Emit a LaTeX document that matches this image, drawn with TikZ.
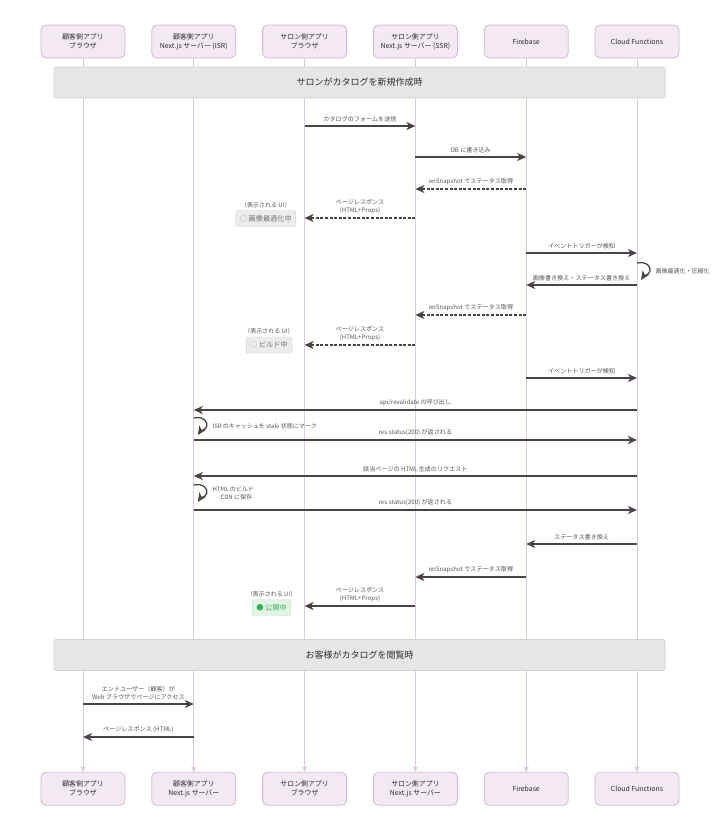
\documentclass[tikz,border=0pt]{standalone}
\usepackage{fontspec}
\setmainfont{Noto Sans CJK JP}
\usepackage{tikz}
\usetikzlibrary{positioning,arrows.meta}

\definecolor{actorfill}{HTML}{F3E9F3}
\definecolor{actorline}{HTML}{D4B4D6}
\definecolor{lifecol}{HTML}{DCC8E3}
\definecolor{msgcol}{HTML}{4B4343}
\definecolor{barfill}{HTML}{E6E6E6}
\definecolor{barline}{HTML}{D3D3D3}
\definecolor{txtcol}{HTML}{2E2E2E}
\definecolor{lblcol}{HTML}{555555}
\definecolor{uifill}{HTML}{ECECEC}
\definecolor{uiline}{HTML}{CFCFCF}
\definecolor{okfill}{HTML}{E2F4E5}
\definecolor{okline}{HTML}{C6E5CB}
\definecolor{okcol}{HTML}{3DAA55}

\newcommand{\sendmsg}[5][msg]{\draw[#1] (#2 |- 0,#4) -- node[lbl]{#5} (#3 |- 0,#4);}
\newcommand{\selfmsg}[3]{%
  \draw[msg] (#1 |- 0,#2) .. controls +(10,-2) and +(1,-4) .. ++(13,8)
    .. controls +(-1,4) and +(2,-3) .. ++(-9,9);
  \node[looplbl] at ([xshift=18pt]#1 |- 0,#2+8) {#3};}

\begin{document}
\begin{tikzpicture}[x=1pt, y=-1pt,
  actor/.style={draw=actorline, fill=actorfill, rounded corners=5pt, line width=0.8pt,
    minimum width=84pt, minimum height=33pt, align=center, inner sep=1pt,
    font=\fontsize{6.9}{9}\selectfont, text=txtcol},
  phase/.style={draw=barline, fill=barfill, rounded corners=1.5pt, line width=0.6pt,
    minimum width=611pt, minimum height=31pt, font=\fontsize{9}{10}\selectfont, text=txtcol},
  life/.style={draw=lifecol, line width=0.9pt, -{Triangle[length=5pt,width=5pt]}},
  msg/.style={draw=msgcol, line width=1.3pt, -{Stealth[length=9pt,width=8pt,inset=2.5pt]}},
  reply/.style={msg, dash pattern=on 3pt off 1.6pt},
  lbl/.style={midway, above=3pt, align=center, inner sep=0.5pt,
    font=\fontsize{6.1}{8}\selectfont, text=lblcol},
  looplbl/.style={anchor=west, align=left, inner sep=0.5pt,
    font=\fontsize{6}{8}\selectfont, text=lblcol},
  uinote/.style={font=\fontsize{6}{7}\selectfont, text=lblcol, inner sep=0.5pt},
  uibox/.style={draw=uiline, fill=uifill, rounded corners=1pt, minimum height=16pt,
    inner xsep=4pt, font=\fontsize{7.2}{8}\selectfont, text=black!55},
  okbox/.style={uibox, draw=okline, fill=okfill, text=okcol}]

\useasboundingbox (0,0) rectangle (720,828);

% participants
\node[actor] (h1) at (83,41.5) {顧客側アプリ\\ブラウザ};
\node[actor, right=26pt of h1] (h2) {顧客側アプリ\\Next.js サーバー (ISR)};
\node[actor, right=26pt of h2] (h3) {サロン側アプリ\\ブラウザ};
\node[actor, right=26pt of h3] (h4) {サロン側アプリ\\Next.js サーバー (SSR)};
\node[actor, right=26pt of h4] (h5) {Firebase};
\node[actor, right=26pt of h5] (h6) {Cloud Functions};

\node[actor, below=713.5pt of h1] (f1) {顧客側アプリ\\ブラウザ};
\node[actor, below=713.5pt of h2] (f2) {顧客側アプリ\\Next.js サーバー};
\node[actor, below=713.5pt of h3] (f3) {サロン側アプリ\\ブラウザ};
\node[actor, below=713.5pt of h4] (f4) {サロン側アプリ\\Next.js サーバー};
\node[actor, below=713.5pt of h5] (f5) {Firebase};
\node[actor, below=713.5pt of h6] (f6) {Cloud Functions};

\foreach \i in {1,...,6}
  \draw[life] (h\i) -- (f\i);

\node[phase] (p1) at (359.5,82.5) {サロンがカタログを新規作成時};
\node[phase] (p2) at (359.5,655) {お客様がカタログを閲覧時};

% salon creates catalog
\sendmsg{h3}{h4}{126}{カタログのフォームを送信}
\sendmsg{h4}{h5}{157}{DB に書き込み}
\sendmsg[reply]{h5}{h4}{189}{onSnapshot でステータス取得}
\sendmsg[reply]{h4}{h3}{218}{ページレスポンス\\(HTML+Props)}
\node[uibox, anchor=east] (ui1) at (296,218.5) {{\color{black!35}○} 画像最適化中};
\node[uinote, above=2pt of ui1] {（表示される UI）};

\sendmsg{h5}{h6}{253}{イベントトリガーが検知}
\selfmsg{h6}{263}{画像最適化・圧縮化}
\sendmsg{h6}{h5}{285}{画像書き換え・ステータス書き換え}
\sendmsg[reply]{h5}{h4}{315}{onSnapshot でステータス取得}
\sendmsg[reply]{h4}{h3}{345}{ページレスポンス\\(HTML+Props)}
\node[uibox, anchor=east] (ui2) at (292,345) {{\color{black!35}○} ビルド中};
\node[uinote, above=2pt of ui2] {（表示される UI）};

\sendmsg{h5}{h6}{378}{イベントトリガーが検知}
\sendmsg{h6}{h2}{410}{api/revalidate の呼び出し}
\selfmsg{h2}{418}{ISR のキャッシュを stale 状態にマーク}
\sendmsg{h2}{h6}{440}{res.status(200) が返される}
\sendmsg{h6}{h2}{476}{該当ページの HTML 生成のリクエスト}
\selfmsg{h2}{485}{HTML のビルド\\\hspace*{8pt}CDN に保存}
\sendmsg{h2}{h6}{510}{res.status(200) が返される}
\sendmsg{h6}{h5}{544}{ステータス書き換え}
\sendmsg{h5}{h4}{577}{onSnapshot でステータス取得}
\sendmsg{h4}{h3}{606}{ページレスポンス\\(HTML+Props)}
\node[okbox, anchor=east] (ui3) at (291,607.5) {● 公開中};
\node[uinote, above=2pt of ui3] {（表示される UI）};

% customer views catalog
\sendmsg{h1}{h2}{704}{エンドユーザー（顧客）が\\Web ブラウザでページにアクセス}
\sendmsg{h2}{h1}{737}{ページレスポンス (HTML)}

\end{tikzpicture}
\end{document}
